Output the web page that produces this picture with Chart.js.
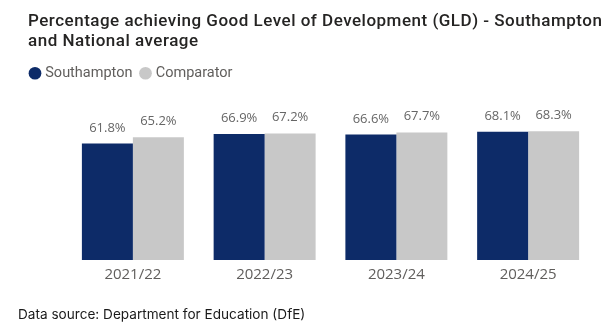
<!DOCTYPE html>
<html>
<head>
<meta charset="utf-8">
<script src="https://cdn.jsdelivr.net/npm/chart.js@4.4.1/dist/chart.umd.min.js"></script>
<style>
  html, body { margin: 0; padding: 0; background: #fff; }
  #wrap { position: relative; width: 611px; height: 336px; overflow: hidden; }
  #chart { position: absolute; left: 0; top: 0; }
  #title {
    position: absolute; left: 28px; top: 10px;
    font: 500 17px/20px Roboto, sans-serif; letter-spacing: 0.5px; color: #252423;
    white-space: nowrap;
  }
  #source {
    position: absolute; left: 18px; top: 306px;
    font: 13.6px/17px Inter, sans-serif; color: #1a1a1a;
  }
</style>
</head>
<body>
<div id="wrap">
  <canvas id="chart" width="611" height="336"></canvas>
  <div id="title">Percentage achieving Good Level of Development (GLD) - Southampton<br>and National average</div>
  <div id="source">Data source: Department for Education (DfE)</div>
</div>
<script>
// GLD percentages by academic year
const YEARS = ['2021/22', '2022/23', '2023/24', '2024/25'];
const SOUTHAMPTON = [61.8, 66.9, 66.6, 68.1];
const COMPARATOR = [65.2, 67.2, 67.7, 68.3];

const NAVY = '#0d2b68';
const GREY = '#c8c8c8';
const LABEL_GREY = '#605e5c';

// Value labels above each bar (no datalabels plugin available offline)
const barValues = {
  id: 'barValues',
  afterDatasetsDraw(chart) {
    const ctx = chart.ctx;
    ctx.save();
    ctx.font = "13px 'Open Sans', sans-serif";
    ctx.fillStyle = '#666666';
    ctx.textAlign = 'center';
    ctx.textBaseline = 'alphabetic';
    chart.data.datasets.forEach((ds, i) => {
      chart.getDatasetMeta(i).data.forEach((bar, j) => {
        ctx.fillText(ds.data[j].toFixed(1) + '%', bar.x, bar.y - 12);
      });
    });
    ctx.restore();
  },
};

new Chart(document.getElementById('chart'), {
  type: 'bar',
  data: {
    labels: YEARS,
    datasets: [
      { label: 'Southampton', data: SOUTHAMPTON, backgroundColor: NAVY },
      { label: 'Comparator', data: COMPARATOR, backgroundColor: GREY },
    ],
  },
  options: {
    responsive: false,
    animation: false,
    devicePixelRatio: 1,
    layout: { padding: { top: 56, left: 22, right: 17, bottom: 46 } },
    datasets: { bar: { categoryPercentage: 0.774, barPercentage: 1 } },
    plugins: {
      title: { display: false },
      tooltip: { enabled: false },
      legend: {
        position: 'top',
        align: 'start',
        labels: {
          usePointStyle: true,
          pointStyle: 'circle',
          boxWidth: 6,
          boxHeight: 9,
          padding: 10,
          color: LABEL_GREY,
          font: { family: 'Roboto, sans-serif', size: 14.5 },
        },
      },
    },
    scales: {
      x: {
        grid: { display: false, drawTicks: false },
        border: { display: false },
        ticks: {
          color: LABEL_GREY,
          padding: 6,
          font: { family: "'Open Sans', sans-serif", size: 15 },
        },
      },
      y: {
        min: 0,
        max: 90,
        grid: { display: false, drawTicks: false },
        border: { display: false },
        ticks: { display: false },
        afterFit: (scale) => { scale.width = 45; },
      },
    },
  },
  plugins: [barValues],
});
</script>
</body>
</html>
